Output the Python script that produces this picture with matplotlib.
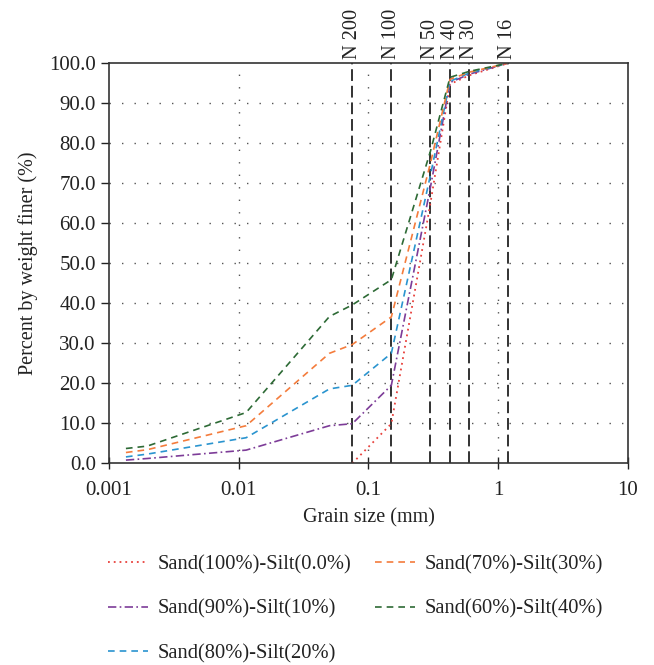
import matplotlib.pyplot as plt
from matplotlib.ticker import FixedLocator, FixedFormatter, FormatStrFormatter
import matplotlib.transforms as mtransforms

plt.rcParams['font.family'] = ['Liberation Serif', 'DejaVu Serif']

# grain sizes (mm): hydrometer points then sieves
sizes = [0.00135, 0.00197, 0.0114, 0.05, 0.075, 0.15, 0.3, 0.425, 0.6, 1.18]
sand100 = [0.0, 9.9, 65.0, 94.8, 97.0, 100.0]   # starts at 0.075
sand90 = [0.8, 1.2, 3.3, 9.4, 9.9, 19.5, 69.0, 95.2, 97.3, 100.0]
sand80 = [1.6, 2.3, 6.4, 18.6, 19.5, 27.5, 72.0, 95.5, 97.6, 100.0]
sand70 = [2.7, 3.4, 9.4, 27.5, 29.7, 36.6, 75.0, 96.0, 97.8, 100.0]
sand60 = [3.7, 4.3, 12.7, 36.7, 39.6, 45.9, 78.0, 96.5, 98.0, 100.0]

sieve_sizes = [0.075, 0.15, 0.3, 0.425, 0.6, 1.18]
sieve_names = ["N 200", "N 100", "N 50", "N 40", "N 30", "N 16"]

labels = ["Sand(100%)-Silt(0.0%)", "Sand(90%)-Silt(10%)", "Sand(80%)-Silt(20%)",
          "Sand(70%)-Silt(30%)", "Sand(60%)-Silt(40%)"]

fig = plt.figure(figsize=(6.54, 6.65), dpi=100)
ax = fig.add_axes([0.1667, 0.3033, 0.7935, 0.6015])

ax.set_xscale('log')
ax.set_xlim(0.001, 10)
ax.set_ylim(0, 100)

# grid
for gx in [0.01, 0.1, 1]:
    ax.axvline(gx, color='#555555', lw=1.0, ls=(0, (1, 8)), zorder=0)
for gy in range(10, 100, 10):
    ax.axhline(gy, color='#555555', lw=1.0, ls=(0, (1, 8)), zorder=0)

# sieve lines
trans = mtransforms.blended_transform_factory(ax.transData, ax.transAxes)
for s, n in zip(sieve_sizes, sieve_names):
    ax.axvline(s, color='#222222', lw=1.3, ls=(0, (6.5, 2.7)), zorder=1)
    ax.text(s, 1.012, n, transform=trans, rotation=90, ha='center', va='bottom',
            fontsize=14.7, color='#222222')

l1, = ax.plot(sizes[4:], sand100, color='#e8413c', lw=1.3, ls=(0, (1, 2.2)))
l2, = ax.plot(sizes, sand90, color='#7d3c98', lw=1.2, ls=(0, (5, 2, 1, 2)))
l3, = ax.plot(sizes, sand80, color='#2a94cf', lw=1.2, ls=(0, (4, 3)))
l4, = ax.plot(sizes, sand70, color='#f47c3c', lw=1.2, ls=(0, (4, 3)))
l5, = ax.plot(sizes, sand60, color='#2d6a35', lw=1.2, ls=(0, (4, 3)))

ax.xaxis.set_major_locator(FixedLocator([0.001, 0.01, 0.1, 1, 10]))
ax.xaxis.set_major_formatter(FixedFormatter(["0.001", "0.01", "0.1", "1", "10"]))
ax.xaxis.set_minor_locator(FixedLocator([]))
ax.set_yticks(range(0, 101, 10))
ax.yaxis.set_major_formatter(FormatStrFormatter('%.1f'))
ax.tick_params(axis='x', direction='inout', length=9, width=1, labelsize=15, colors='#222222', pad=8.5)
ax.tick_params(axis='y', direction='out', length=6, width=1, labelsize=15, colors='#222222')
for sp in ax.spines.values():
    sp.set_color('#333333')
    sp.set_linewidth(1.2)

ax.set_xlabel("Grain size (mm)", fontsize=14.5, color='#222222', labelpad=6)
ax.set_ylabel("Percent by weight finer (%)", fontsize=14.5, color='#222222', labelpad=8)

fig.legend([l1, l2, l3, l4, l5], labels, ncol=2, loc='upper left',
           bbox_to_anchor=(0.165, 0.1655), frameon=False, fontsize=14.8,
           borderpad=0, borderaxespad=0,
           handlelength=1.95, handletextpad=0.49, columnspacing=1.12,
           labelspacing=1.22, labelcolor='#222222')

fig.savefig("out.png", dpi=100)
